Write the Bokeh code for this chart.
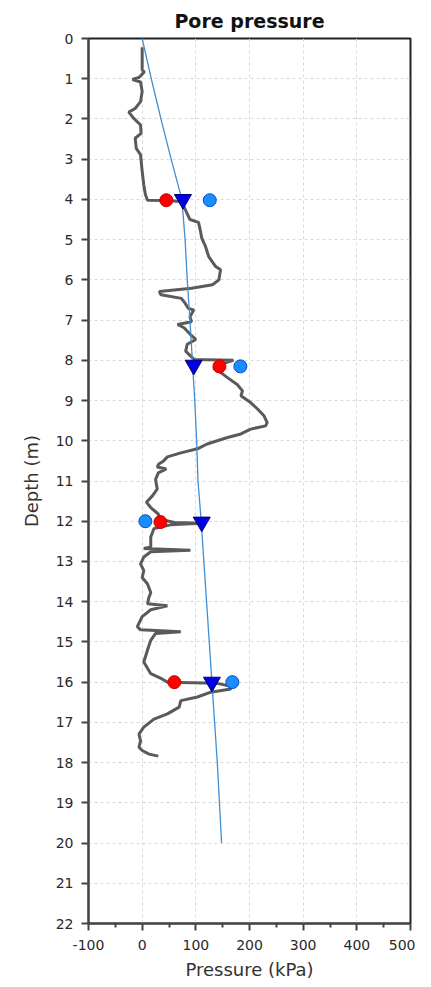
from bokeh.plotting import figure
from bokeh.models import Range1d, FixedTicker
from bokeh.embed import file_html
from bokeh.resources import INLINE

# Measured pore-pressure profile (depth m, pressure kPa)
meas_depth = [0.22, 0.78, 0.83, 0.97, 1.02, 1.08, 1.32, 1.57, 1.74, 1.83, 1.98, 2.15, 2.36, 2.48, 2.73,
              2.89, 3.30, 3.64, 3.88, 4.02, 4.03, 4.05, 4.13, 4.33, 4.50, 4.57, 4.75, 4.96, 5.17, 5.42,
              5.67, 5.75, 6.00, 6.12, 6.21, 6.29, 6.37, 6.46, 6.58, 6.71, 6.75, 6.92, 7.04, 7.11, 7.19,
              7.36, 7.48, 7.60, 7.77, 7.89, 7.98, 8.00, 8.08, 8.20, 8.30, 8.43, 8.60, 8.76, 8.88, 9.05,
              9.21, 9.38, 9.55, 9.63, 9.71, 9.83, 9.92, 10.08, 10.20, 10.30, 10.40, 10.50, 10.58, 10.65,
              10.70, 10.80, 10.96, 11.20, 11.37, 11.53, 11.66, 11.82, 11.95, 12.03, 12.05, 12.09, 12.18,
              12.39, 12.64, 12.68, 12.72, 12.76, 12.89, 13.06, 13.23, 13.40, 13.56, 13.77, 13.92, 14.05,
              14.10, 14.20, 14.37, 14.62, 14.70, 14.75, 14.79, 14.96, 15.20, 15.50, 15.79, 15.92, 16.00,
              16.03, 16.10, 16.17, 16.25, 16.37, 16.46, 16.62, 16.79, 16.92, 17.12, 17.29, 17.46, 17.62,
              17.70, 17.79, 17.84]
meas_p = [0, 0, 4, -6, -18, -3, 0, -3, -13, -25, -16, -3, -2, -13, -11,
          -3, 0, 3, 6, 10, 45, 72, 76, 83, 89, 105, 108, 111, 118, 124,
          137, 146, 143, 131, 92, 32, 35, 73, 80, 86, 96, 89, 92, 66, 78,
          90, 100, 84, 81, 90, 97, 170, 150, 133, 146, 159, 177, 187, 184, 202,
          215, 227, 233, 230, 202, 184, 159, 121, 103, 72, 47, 40, 31, 28,
          45, 30, 25, 28, 19, 8, 16, 30, 34, 60, 110, 53, 22,
          16, 16, 3, 90, 16, 3, -3, 3, 0, 10, 16, 12, 10,
          47, 16, 0, -9, -3, 72, 25, 16, 10, 3, 16, 37, 47,
          140, 165, 165, 128, 103, 72, 69, 47, 22, 3, -6, -3, -6,
          0, 13, 30]

# Hydrostatic line
hydro_depth = [0, 1, 2, 3, 4, 5, 6, 7, 8, 9, 10, 11, 12, 13, 14, 15, 16, 17, 18, 19, 20]
hydro_p = [0, 17, 35, 54, 74, 80, 84, 89, 93.5, 98, 101.5, 104, 110, 115, 120, 125, 130, 135, 140, 144, 148]

# Markers
tri_depth = [4.0, 8.12, 12.02, 16.0]
tri_p = [76, 96, 111, 130]
red_depth = [4.02, 8.15, 12.02, 16.0]
red_p = [45, 144, 34, 60]
blue_depth = [4.02, 8.15, 12.0, 16.0]
blue_p = [126, 183, 6, 168]

x_ticks = [-100, 0, 100, 200, 300, 400, 500]
x_minor = [-50, 50, 150, 250, 350, 450]
y_ticks = list(range(0, 23))

FONT = "DejaVu Sans"

p = figure(width=415, height=987, output_backend="svg", toolbar_location=None,
           x_range=Range1d(-100, 500), y_range=Range1d(22, 0),
           min_border_left=88, min_border_right=5, min_border_top=38, min_border_bottom=64)

p.title.text = "Pore pressure"
p.title.align = "center"
p.title.text_font = FONT
p.title.text_font_style = "bold"
p.title.text_font_size = "19px"
p.title.text_color = "#111111"
p.title.offset = 0
p.title.standoff = 14

p.outline_line_color = "#222222"
p.outline_line_width = 2
p.outline_line_alpha = 1

for ax in (p.xaxis[0], p.yaxis[0]):
    ax.axis_line_color = "#444444"
    ax.axis_line_width = 2
    ax.major_tick_line_color = "#444444"
    ax.major_tick_line_width = 2
    ax.major_tick_out = 7
    ax.major_tick_in = 0
    ax.minor_tick_line_color = "#444444"
    ax.minor_tick_line_width = 2
    ax.major_label_text_font = FONT
    ax.major_label_text_font_size = "14px"
    ax.major_label_text_color = "#2a2a2a"
    ax.axis_label_text_font = FONT
    ax.axis_label_text_font_size = "18px"
    ax.axis_label_text_font_style = "normal"
    ax.axis_label_text_color = "#333333"

p.xaxis.ticker = FixedTicker(ticks=x_ticks, minor_ticks=x_minor)
p.xaxis.major_label_overrides = {-100: "-100"}
p.xaxis.minor_tick_out = 4
p.xaxis.minor_tick_in = 0
p.xaxis.major_label_standoff = 9
p.xaxis.axis_label = "Pressure (kPa)"
p.xaxis.axis_label_standoff = 6
p.yaxis.ticker = FixedTicker(ticks=y_ticks)
p.yaxis.minor_tick_line_color = None
p.yaxis.major_label_standoff = 8
p.yaxis.axis_label = "Depth (m)"
p.yaxis.axis_label_standoff = 11

p.grid.grid_line_color = "#d8d8d8"
p.grid.grid_line_dash = "3 3"
p.grid.grid_line_width = 1

p.line(meas_p, meas_depth, line_color="#5a5a5a", line_width=3)
p.line(hydro_p, hydro_depth, line_color="#3f8fd2", line_width=1.3)

p.scatter(red_p, red_depth, marker="circle", size=13, fill_color="#ff0000", line_color="#cc0000", line_width=1)
p.scatter(blue_p, blue_depth, marker="circle", size=13, fill_color="#1a8cff", line_color="#0050c8", line_width=1)
p.scatter(tri_p, tri_depth, marker="inverted_triangle", size=17, fill_color="#0000e0", line_color="#000080", line_width=1)

open("out.html", "w").write(file_html(p, INLINE))
